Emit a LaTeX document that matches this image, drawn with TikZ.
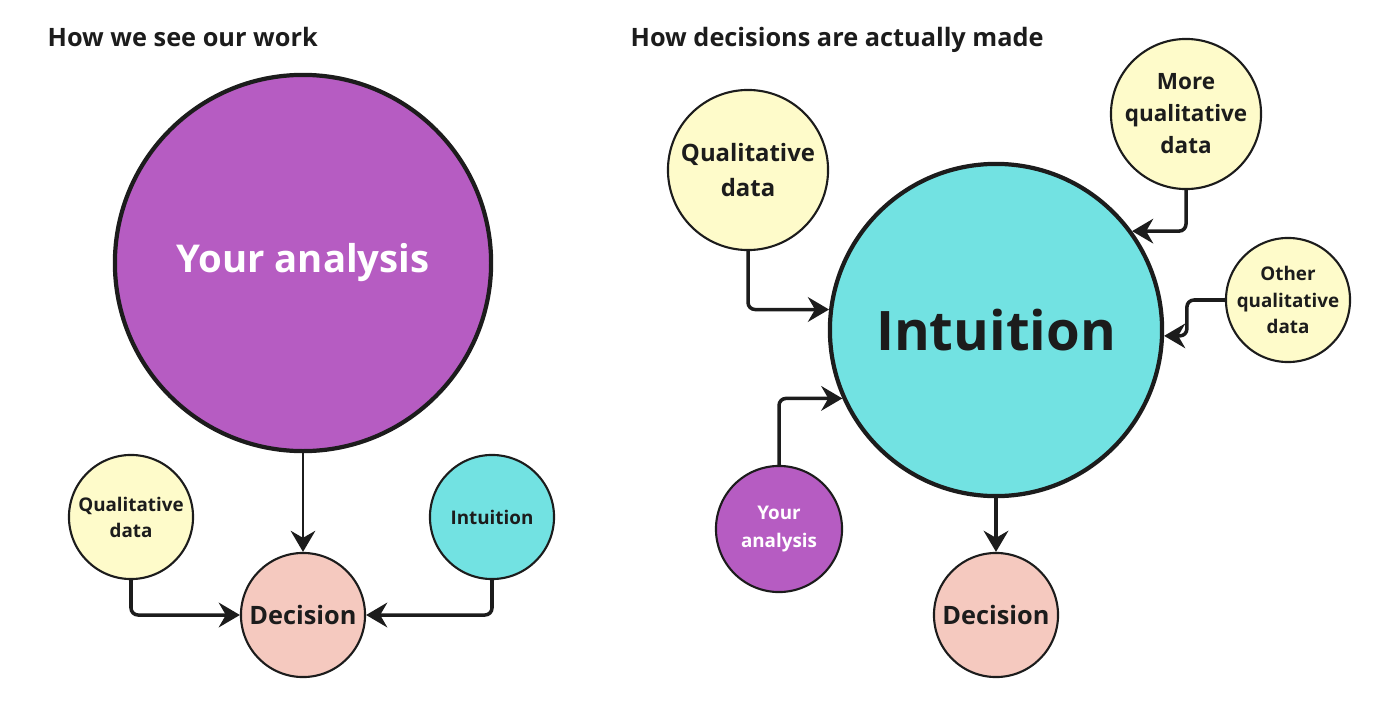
\documentclass[tikz,border=0pt]{standalone}
\usepackage{fontspec}
\setmainfont{Open Sans}
\usetikzlibrary{arrows.meta}
\definecolor{Orchid}{RGB}{182, 92, 194}
\definecolor{Aqua}{RGB}{114, 226, 226}
\definecolor{Cream}{RGB}{254, 251, 202}
\definecolor{Blush}{RGB}{245, 201, 191}
\definecolor{Ink}{RGB}{28, 28, 28}

\begin{document}
\begin{tikzpicture}[x=0.01cm,y=-0.01cm,
  bubble/.style={circle,draw=Ink,line width=0.6pt,inner sep=0pt,align=center,text=Ink},
  link/.style={draw=Ink,line width=1pt,rounded corners=2pt,-{Stealth[length=6pt,width=7pt,inset=2pt]}},
  title/.style={anchor=base west,inner sep=0pt,text=Ink,font=\fontsize{7.2}{9}\selectfont\bfseries}]
\useasboundingbox (0,0) rectangle (1400,703);
%\draw[help lines,step=100] (0,0) grid (1400,703);
% how we see our work
\node[title] (t1) at (47,47) {How we see our work};
\node[bubble,fill=Orchid,line width=1.2pt,minimum size=3.76cm,text=white,font=\fontsize{10.9}{13}\selectfont\bfseries] (ya1) at (303,263) {Your analysis};
\node[bubble,fill=Cream,minimum size=1.24cm,font=\fontsize{5.35}{7.4}\selectfont\bfseries] (qd1) at (131,517) {Qualitative\\data};
\node[bubble,fill=Aqua,minimum size=1.24cm,font=\fontsize{5.35}{7.4}\selectfont\bfseries] (in1) at (492,517) {Intuition};
\node[bubble,fill=Blush,minimum size=1.24cm,font=\fontsize{7.2}{9}\selectfont\bfseries] (de1) at (303,615) {Decision};
\draw[link,line width=0.8pt] (ya1) -- (de1);
\draw[link] (qd1) |- (de1);
\draw[link] (in1) |- (de1);
% how decisions are actually made
\node[title] (t2) at (630,47) {How decisions are actually made};
\node[bubble,fill=Aqua,line width=1.2pt,minimum size=3.32cm,font=\fontsize{15.5}{18}\selectfont\bfseries] (in2) at (996,330) {Intuition};
\node[bubble,fill=Cream,minimum size=1.6cm,font=\fontsize{6.8}{10}\selectfont\bfseries] (qd2) at (748,170) {Qualitative\\data};
\node[bubble,fill=Cream,minimum size=1.5cm,font=\fontsize{6.4}{9.1}\selectfont\bfseries] (mq) at (1186,114) {More\\qualitative\\data};
\node[bubble,fill=Cream,minimum size=1.24cm,font=\fontsize{5.35}{7.5}\selectfont\bfseries] (oq) at (1288,300) {Other\\qualitative\\data};
\node[bubble,fill=Orchid,minimum size=1.26cm,text=white,font=\fontsize{5.35}{7.7}\selectfont\bfseries] (ya2) at (779,529) {Your\\analysis};
\node[bubble,fill=Blush,minimum size=1.24cm,font=\fontsize{7.2}{9}\selectfont\bfseries] (de2) at (996,615) {Decision};
\draw[link] (qd2) |- (in2.173);
\draw[link] (mq) |- (in2.36);
\draw[link] (oq.west) -- ++(-38,0) |- (in2.-2);
\draw[link] (ya2) |- (in2.204);
\draw[link] (in2) -- (de2);
\end{tikzpicture}
\end{document}
